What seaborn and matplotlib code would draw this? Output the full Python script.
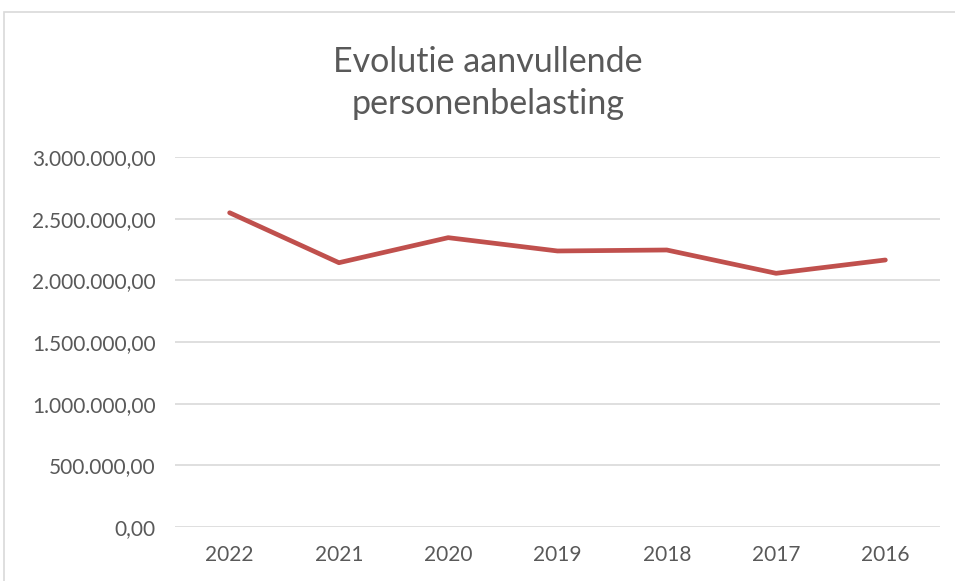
import matplotlib
matplotlib.use("Agg")
import matplotlib.pyplot as plt
import seaborn as sns
import pandas as pd
from matplotlib.ticker import FuncFormatter
from matplotlib.patches import Rectangle

years = ["2022", "2021", "2020", "2019", "2018", "2017", "2016"]
values = [2548000, 2143000, 2346000, 2238000, 2246000, 2057000, 2165000]
yticks = [0, 500000, 1000000, 1500000, 2000000, 2500000, 3000000]

sns.set_theme(style="white")
plt.rcParams['font.family'] = ['Lato', 'DejaVu Sans']

df = pd.DataFrame({"year": years, "value": values})

fig = plt.figure(figsize=(9.55, 5.81), dpi=100)
ax = fig.add_axes([175/955, 1-527/581, 765/955, 370/581])

sns.lineplot(data=df, x="year", y="value", ax=ax, color="#c0504d", linewidth=3.4,
             sort=False, solid_capstyle="round", solid_joinstyle="round")

ax.set_xlim(-0.5, len(years) - 0.5)
ax.set_ylim(0, 3000000)
ax.set_yticks(yticks)
ax.yaxis.set_major_formatter(FuncFormatter(
    lambda v, p: f"{v:,.2f}".replace(",", "X").replace(".", ",").replace("X", ".")))
ax.grid(axis="y", color="#d9d9d9", linewidth=1.2)
ax.set_axisbelow(True)
for s in ax.spines.values():
    s.set_visible(False)
ax.tick_params(axis="both", length=0, labelsize=15, colors="#595959")
ax.tick_params(axis="y", pad=14)
ax.tick_params(axis="x", pad=13)
ax.set_xlabel("")
ax.set_ylabel("")

fig.text(488/955, 1 - 83/581, "Evolutie aanvullende\npersonenbelasting",
         ha="center", va="center", fontsize=24.5, color="#595959", linespacing=1.42)

fig.patches.append(Rectangle((4/955, -0.1), 1.2, 1 - 12/581 + 0.1, transform=fig.transFigure,
                             fill=False, edgecolor="#d9d9d9", linewidth=1.2))

fig.savefig("out.png", dpi=100)
